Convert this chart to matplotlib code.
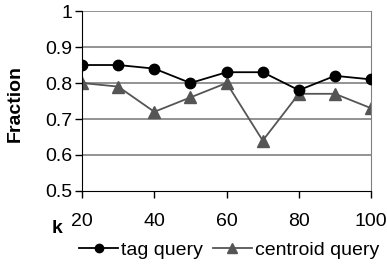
import numpy as np
import matplotlib.pyplot as plt

plt.rcParams['font.family'] = ['Liberation Sans', 'DejaVu Sans']

k = [20, 30, 40, 50, 60, 70, 80, 90, 100]
tag_query = [0.85, 0.85, 0.84, 0.80, 0.83, 0.83, 0.78, 0.82, 0.81]
centroid_query = [0.80, 0.79, 0.72, 0.76, 0.80, 0.64, 0.77, 0.77, 0.73]

fig = plt.figure(figsize=(3.87, 2.69), dpi=100)
ax = fig.add_axes([0.212, 0.290, 0.747, 0.669])

for y in [0.6, 0.7, 0.8, 0.9, 1.0]:
    ax.axhline(y, color='#808080', linewidth=1.2, zorder=1)

ax.plot(k, tag_query, color='black', marker='o', markersize=7.5, linewidth=1.3,
        label='tag query', zorder=3)
ax.plot(k, centroid_query, color='#555555', marker='^', markersize=9, linewidth=1.3,
        label='centroid query', zorder=2)

ax.set_xlim(20, 100)
ax.set_ylim(0.5, 1.0)
ax.set_xticks([20, 40, 60, 80, 100])
ax.set_yticks([0.5, 0.6, 0.7, 0.8, 0.9, 1.0])
ax.set_yticklabels(['0.5', '0.6', '0.7', '0.8', '0.9', '1'])
ax.tick_params(axis='both', labelsize=14, length=5, width=1, color='black')
ax.tick_params(axis='x', pad=11)
ax.tick_params(axis='y', pad=2)

ax.spines['top'].set_visible(False)
ax.spines['right'].set_color('#808080')
ax.spines['left'].set_color('black')
ax.spines['bottom'].set_color('black')

fig.text(0.148, 0.152, 'k', fontsize=14, fontweight='bold', ha='center', va='center')
fig.text(0.04, 0.615, 'Fraction', fontsize=14, fontweight='bold', rotation=90,
         ha='center', va='center')

fig.legend(loc='center', bbox_to_anchor=(0.592, 0.07), ncol=2, frameon=False,
           fontsize=14, handlelength=2.0, handletextpad=0.15, columnspacing=0.5,
           borderaxespad=0, borderpad=0, markerscale=0.8)

fig.savefig('out.png', dpi=100)
